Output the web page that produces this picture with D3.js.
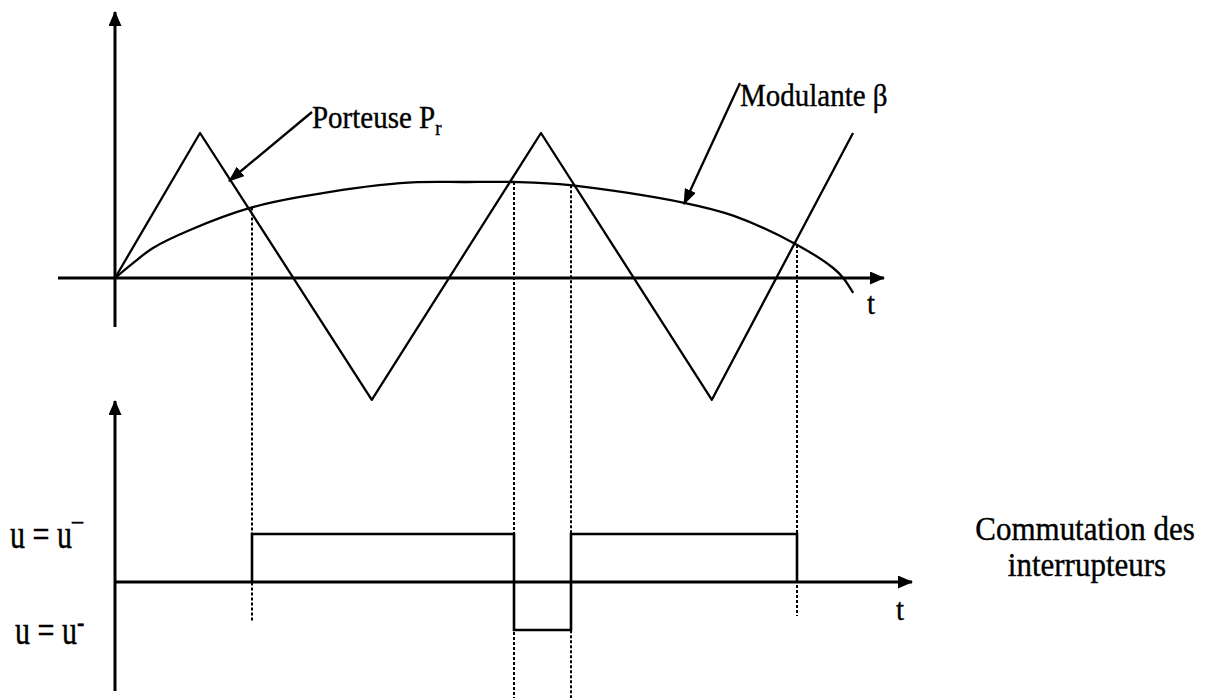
<!DOCTYPE html>
<html>
<head>
<meta charset="utf-8">
<script src="https://cdn.jsdelivr.net/npm/d3@7"></script>
<style>
  html, body { margin: 0; padding: 0; background: #fff; }
  svg { display: block; }
  text { font-family: "Liberation Serif", "Times New Roman", serif; fill: #000; stroke: #000; stroke-width: 0.35; }
</style>
</head>
<body>
<svg id="chart" width="1208" height="698"></svg>
<script>
// Carrier (triangle wave) vertices: time and normalised amplitude
const carrierT = [0, 1, 3.02, 5.01, 7.02, 8.68];
const carrierV = [0, 1, -0.84, 1, -0.84, 1];

// Modulating signal beta, sampled along the time axis
const modT = [0, 0.212, 0.447, 0.882, 1.588, 2.176, 3.353, 4.141, 4.694, 5.353, 6.706, 7.271, 8.024, 8.447, 8.565, 8.682];
const modV = [0, 0.103, 0.207, 0.331, 0.483, 0.559, 0.655, 0.662, 0.662, 0.641, 0.517, 0.43, 0.228, 0.069, 0, -0.103];

// Switching instants (carrier crosses the modulating signal) and switch state after each one
const switchT = [1.612, 4.69, 5.365, 8.024];
const switchState = [1, -1, 1, 0];

// Text labels
const levelLabels = ["u = u", "u = u"];
const levelSup = ["\u00AF", "-"];

const svg = d3.select("#chart");

const x = d3.scaleLinear().domain([0, 8.68]).range([115, 853]);
const yTop = d3.scaleLinear().domain([0, 1]).range([278, 133]);
const yBot = d3.scaleLinear().domain([-1, 1]).range([630, 534]);

// Text helper with a slight vertical stretch
function label(g, px, py, size, sy, anchor) {
  return g.append("text")
    .attr("transform", `translate(${px},${py}) scale(1,${sy})`)
    .attr("font-size", size)
    .attr("text-anchor", anchor || "start");
}

// Arrowhead markers
const defs = svg.append("defs");
defs.append("marker")
  .attr("id", "axisArrow")
  .attr("viewBox", "0 0 15 13")
  .attr("refX", 14).attr("refY", 6.5)
  .attr("markerWidth", 15).attr("markerHeight", 13)
  .attr("markerUnits", "userSpaceOnUse")
  .attr("orient", "auto")
  .append("path").attr("d", "M0,0 L15,6.5 L0,13 Z").attr("fill", "#000");
defs.append("marker")
  .attr("id", "noteArrow")
  .attr("viewBox", "0 0 16 12")
  .attr("refX", 15).attr("refY", 6)
  .attr("markerWidth", 16).attr("markerHeight", 12)
  .attr("markerUnits", "userSpaceOnUse")
  .attr("orient", "auto")
  .append("path").attr("d", "M0,0 L16,6 L0,12 Z").attr("fill", "#000");

// ---------- Top panel: carrier and modulating signal ----------
const gTop = svg.append("g");
const modAt = d3.scaleLinear().domain(modT).range(modV);

// Dotted projection lines from each crossing down to the switching diagram
const dotEnds = [622, 698, 698, 616];
switchT.forEach((t, i) => {
  const px = Math.round(x(t));
  gTop.append("line")
    .attr("x1", px).attr("x2", px)
    .attr("y1", yTop(modAt(t))).attr("y2", dotEnds[i])
    .attr("stroke", "#000").attr("stroke-width", 2)
    .attr("stroke-dasharray", "3,2");
});

// Axes
gTop.append("line")
  .attr("x1", 58).attr("x2", 884).attr("y1", yTop(0)).attr("y2", yTop(0))
  .attr("stroke", "#000").attr("stroke-width", 3)
  .attr("marker-end", "url(#axisArrow)");
gTop.append("line")
  .attr("x1", x(0)).attr("x2", x(0)).attr("y1", 327).attr("y2", 12)
  .attr("stroke", "#000").attr("stroke-width", 3)
  .attr("marker-end", "url(#axisArrow)");

// Carrier
gTop.append("path")
  .datum(d3.zip(carrierT, carrierV))
  .attr("d", d3.line().x(d => x(d[0])).y(d => yTop(d[1])))
  .attr("fill", "none").attr("stroke", "#000").attr("stroke-width", 2.3)
  .attr("stroke-linejoin", "round");

// Modulating signal
gTop.append("path")
  .datum(d3.zip(modT, modV))
  .attr("d", d3.line().x(d => x(d[0])).y(d => yTop(d[1])).curve(d3.curveCatmullRom.alpha(0.5)))
  .attr("fill", "none").attr("stroke", "#000").attr("stroke-width", 2.3);

label(gTop, 867, 314, 29, 1.1).text("t");

// Annotations
gTop.append("line")
  .attr("x1", 312).attr("y1", 112).attr("x2", 229).attr("y2", 181)
  .attr("stroke", "#000").attr("stroke-width", 2.3)
  .attr("marker-end", "url(#noteArrow)");
const tP = label(gTop, 312, 128, 29, 1.12);
tP.append("tspan").text("Porteuse P");
tP.append("tspan").attr("font-size", 19).attr("dy", 6).text("r");

gTop.append("line")
  .attr("x1", 740).attr("y1", 83).attr("x2", 684).attr("y2", 204)
  .attr("stroke", "#000").attr("stroke-width", 2.3)
  .attr("marker-end", "url(#noteArrow)");
label(gTop, 740, 106, 29, 1.12).text("Modulante \u03B2");

// ---------- Bottom panel: switch commutation ----------
const gBot = svg.append("g");

gBot.append("line")
  .attr("x1", x(0)).attr("x2", 912).attr("y1", yBot(0)).attr("y2", yBot(0))
  .attr("stroke", "#000").attr("stroke-width", 3.2)
  .attr("marker-end", "url(#axisArrow)");
gBot.append("line")
  .attr("x1", x(0)).attr("x2", x(0)).attr("y1", 691).attr("y2", 401)
  .attr("stroke", "#000").attr("stroke-width", 3)
  .attr("marker-end", "url(#axisArrow)");

// Step waveform built from switching instants
const stepPts = [[switchT[0], 0]];
switchT.forEach((t, i) => {
  stepPts.push([t, switchState[i]]);
  if (i < switchT.length - 1) stepPts.push([switchT[i + 1], switchState[i]]);
});
gBot.append("path")
  .datum(stepPts)
  .attr("d", d3.line().x(d => Math.round(x(d[0]))).y(d => yBot(d[1])))
  .attr("fill", "none").attr("stroke", "#000").attr("stroke-width", 2.6);

label(gBot, 896, 620, 29, 1.1).text("t");

// Level labels
[1, -1].forEach((lv, i) => {
  const t = label(gBot, i === 0 ? 10 : 15, yBot(lv) + 14, 30, 1.3)
    .attr("stroke-width", 0.6);
  t.append("tspan").text(levelLabels[i]);
  t.append("tspan").attr("font-size", 22).attr("dy", i === 0 ? -3 : -9).text(levelSup[i]);
});

label(gBot, 1085, 540, 31, 1.12, "middle").text("Commutation des");
label(gBot, 1087, 576, 31, 1.12, "middle").text("interrupteurs");
</script>
</body>
</html>
